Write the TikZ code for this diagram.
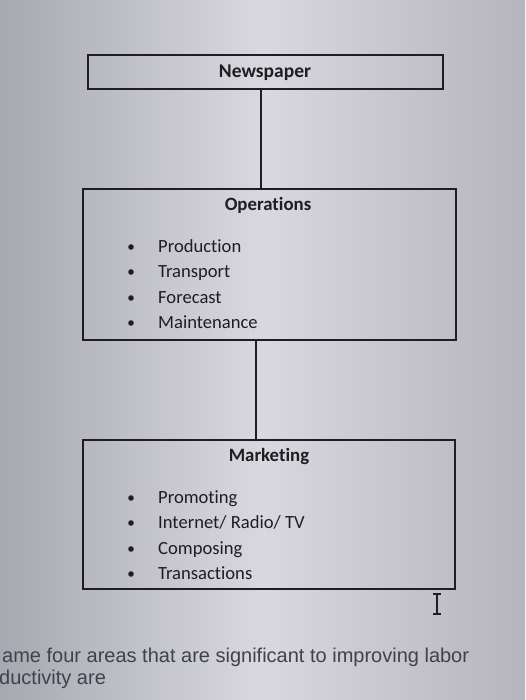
\documentclass[tikz,border=0pt]{standalone}
\usepackage{fontspec}
\setmainfont{Carlito}[RawFeature=-liga]
\newfontfamily\arialf{Liberation Sans}
\definecolor{bgedge}{RGB}{168,168,176}
\definecolor{bgmid}{RGB}{216,216,222}
\definecolor{bgright}{RGB}{182,180,188}
\definecolor{ink}{RGB}{30,30,34}
\definecolor{lowtext}{RGB}{62,66,80}
\begin{document}
\begin{tikzpicture}[x=1pt,y=-1pt,
  box/.style={draw=ink,line width=1.3pt,rectangle,inner sep=0pt},
  title/.style={font=\fontsize{18.8}{22}\selectfont\bfseries,text=ink,inner sep=0pt,text height=14pt,text depth=2.5pt},
  item/.style={font=\fontsize{18.6}{22}\selectfont,text=ink,anchor=west,inner sep=0pt,text height=14pt,text depth=2.5pt},
  low/.style={font=\arialf\fontsize{20}{24}\selectfont,text=lowtext,anchor=base west,inner sep=0pt},
  conn/.style={draw=ink,line width=1.8pt},
  dot/.style={fill=ink}]
\useasboundingbox (0,0) rectangle (525,700);
\shade[left color=bgedge,right color=bgright,middle color=bgmid] (0,0) rectangle (525,700);
% boxes
\node[box,minimum width=355pt,minimum height=34pt] (news) at (265.5,72) {};
\node[title,font=\fontsize{19.5}{22}\selectfont\bfseries] (newst) at (265,72) {Newspaper};
\node[box,minimum width=373pt,minimum height=151pt] (ops) at (269.5,264.5) {};
\node[title] (opst) at (268,205) {Operations};
\node[box,minimum width=372pt,minimum height=149pt] (mkt) at (269,514.5) {};
\node[title] (mktt) at (269,456) {Marketing};
% connectors
\coordinate (c1) at (261,0);
\coordinate (c2) at (256,0);
\draw[conn] (news.south -| c1) -- (ops.north -| c1);
\draw[conn] (ops.south -| c2) -- (mkt.north -| c2);
% operations items
\foreach \t/\y [count=\i] in {Production/247,Transport/272,Forecast/298,Maintenance/323}{
  \fill[dot] (131,\y) circle (2.8pt);
  \node[item] (op\i) at (158,\y) {\t};
}
\foreach \t/\y [count=\i] in {Promoting/498,{Internet/ Radio/ TV}/523,Composing/549,Transactions/574}{
  \fill[dot] (131,\y) circle (2.8pt);
  \node[item] (mk\i) at (158,\y) {\t};
}
% text cursor
\draw[ink,line width=1.1pt] (437,594) -- (437,614) (433,594) -- (441,594) (433,614) -- (441,614);
% bottom text
\node[low] (q1) at (2,662) {ame four areas that are significant to improving labor};
\node[low] (q2) at (-1,684) {ductivity are};
\end{tikzpicture}
\end{document}
